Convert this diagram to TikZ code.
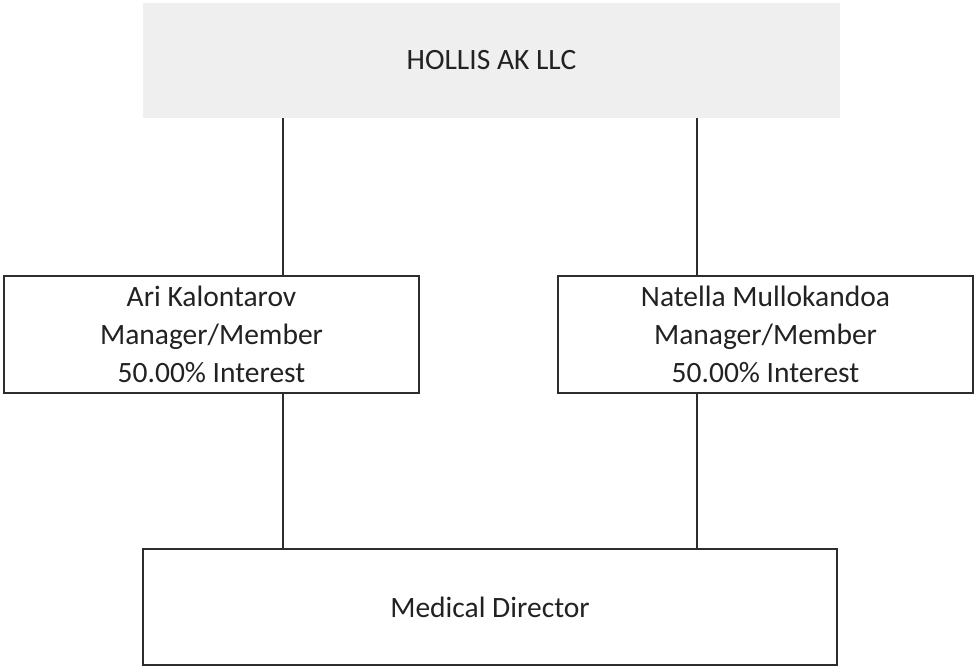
\documentclass[tikz,border=0pt]{standalone}
\usepackage{fontspec}
\setmainfont{Carlito}
\definecolor{topfill}{RGB}{239,239,239}
\definecolor{ink}{RGB}{34,34,34}
\definecolor{edge}{RGB}{45,45,45}
\begin{document}
\begin{tikzpicture}[x=1pt,y=1pt,
  every node/.style={font=\fontsize{29.5}{38}\selectfont, text=ink, align=center, inner sep=0pt},
  topbox/.style={rectangle, fill=topfill, minimum width=697pt, minimum height=115pt},
  memberbox/.style={rectangle, draw=edge, line width=1.5pt, minimum width=415pt, minimum height=117pt},
  dirbox/.style={rectangle, draw=edge, line width=1.5pt, minimum width=694pt, minimum height=116pt},
  conn/.style={draw=edge, line width=1.5pt}]
\useasboundingbox (0,0) rectangle (975,-667);
\fill[white] (0,0) rectangle (975,-667);
\node[topbox] (top) at (491.5,-60.5) {HOLLIS AK LLC};
\node[memberbox] (L) at (211.5,-334.5) {Ari Kalontarov\\Manager/Member\\50.00\% Interest};
\node[memberbox] (R) at (765.5,-334.5) {Natella Mullokandoa\\Manager/Member\\50.00\% Interest};
\node[dirbox] (D) at (490,-607) {Medical Director};
\coordinate (lx) at (283,0);
\coordinate (rx) at (697,0);
\draw[conn] (top.south -| lx) -- (L.north -| lx);
\draw[conn] (top.south -| rx) -- (R.north -| rx);
\draw[conn] (L.south -| lx) -- (D.north -| lx);
\draw[conn] (R.south -| rx) -- (D.north -| rx);
\end{tikzpicture}
\end{document}
